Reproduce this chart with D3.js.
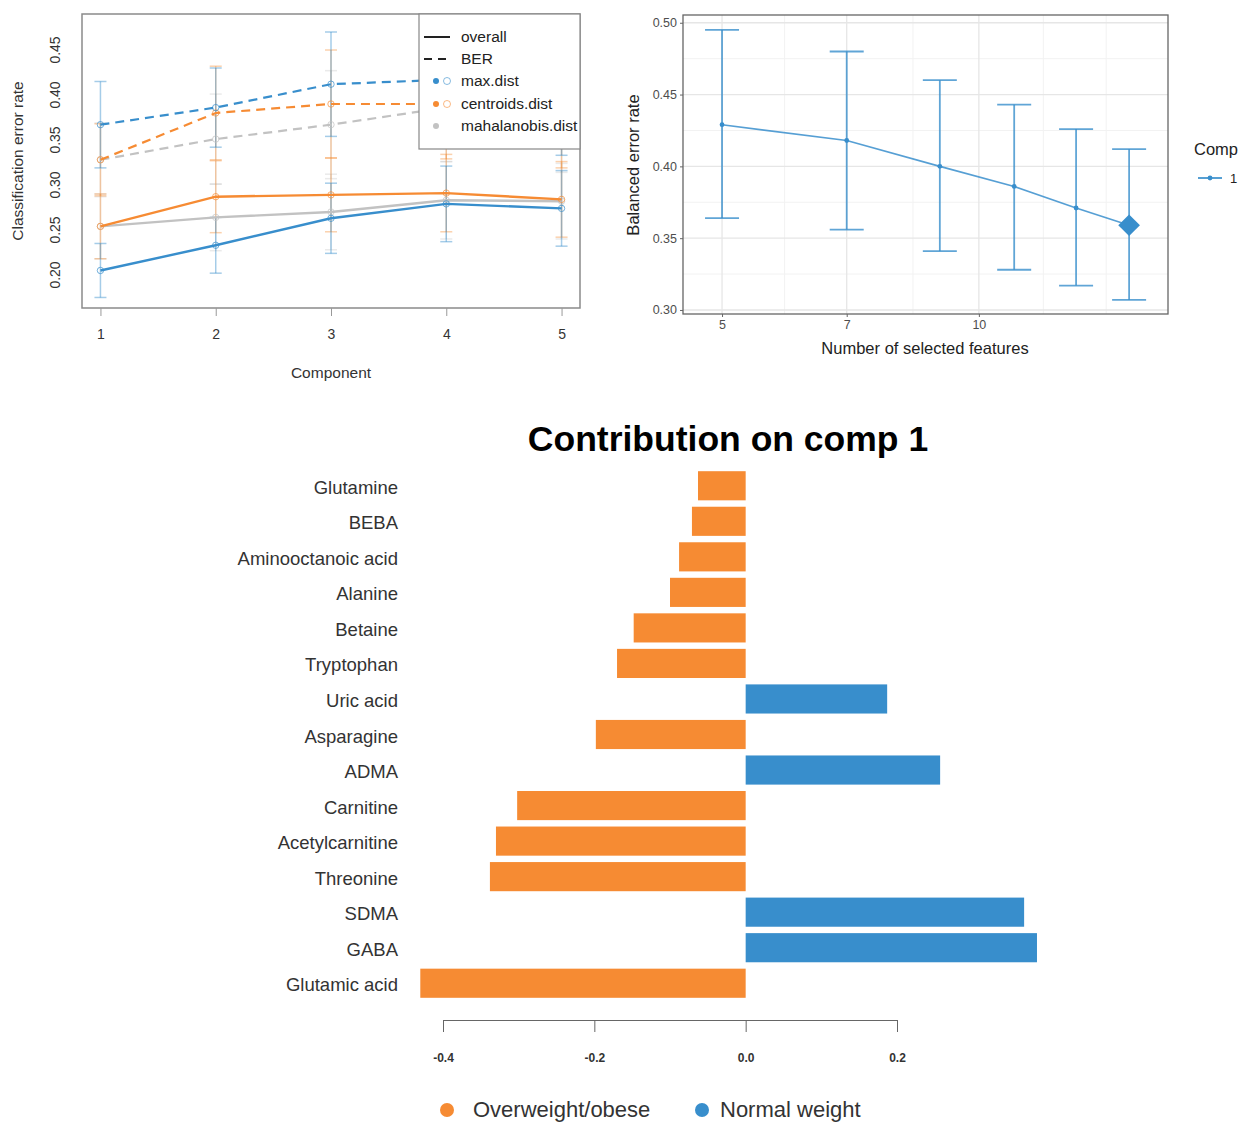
<!DOCTYPE html>
<html>
<head>
<meta charset="utf-8">
<script src="https://cdn.jsdelivr.net/npm/d3@7"></script>
<style>
  body { margin: 0; background: #fff; }
  svg { display: block; font-family: "Liberation Sans", Arial, sans-serif; }
</style>
</head>
<body>
<div id="figure"></div>
<script>
// ---- data ----
// panel A: classification error rate per component
var components = [1, 2, 3, 4, 5];
var maxOverall = [0.205, 0.233, 0.263, 0.279, 0.274];
var maxOverallSd = [0.030, 0.031, 0.039, 0.042, 0.042];
var centOverall = [0.254, 0.287, 0.289, 0.291, 0.284];
var centOverallSd = [0.036, 0.040, 0.041, 0.043, 0.042];
var mahaOverall = [0.254, 0.264, 0.270, 0.283, 0.282];
var mahaOverallSd = [0.036, 0.037, 0.042, 0.043, 0.042];
var maxBER = [0.367, 0.386, 0.412, 0.417, 0.393];
var maxBERSd = [0.048, 0.044, 0.058, 0.062, 0.060];
var centBER = [0.328, 0.380, 0.390, 0.390, 0.381];
var centBERSd = [0.040, 0.052, 0.060, 0.061, 0.062];
var mahaBER = [0.328, 0.351, 0.367, 0.386, 0.374];
var mahaBERSd = [0.041, 0.050, 0.060, 0.060, 0.060];
var errTicks = [0.20, 0.25, 0.30, 0.35, 0.40, 0.45];
var legendA = ["overall", "BER", "max.dist", "centroids.dist", "mahalanobis.dist"];

// panel B: balanced error rate per number of features
var nFeatures = [5, 7, 9, 11, 13, 15];
var berMean = [0.429, 0.418, 0.400, 0.386, 0.371, 0.359];
var berLow = [0.364, 0.356, 0.341, 0.328, 0.317, 0.307];
var berHigh = [0.495, 0.480, 0.460, 0.443, 0.426, 0.412];
var berTicks = [0.30, 0.35, 0.40, 0.45, 0.50];
var berMinor = [0.325, 0.375, 0.425, 0.475];
var featTicks = [5, 7, 10];
var featMinor = [5.92, 8.37, 11.9, 14.1];

// panel C: loadings on component 1
var metabolites = ["Glutamine", "BEBA", "Aminooctanoic acid", "Alanine", "Betaine", "Tryptophan",
  "Uric acid", "Asparagine", "ADMA", "Carnitine", "Acetylcarnitine", "Threonine", "SDMA", "GABA", "Glutamic acid"];
var loadings = [-0.063, -0.071, -0.088, -0.100, -0.148, -0.170, 0.187, -0.198, 0.257, -0.302,
  -0.330, -0.338, 0.368, 0.385, -0.430];
var groups = ["Overweight/obese", "Normal weight"];
var loadTicks = [-0.4, -0.2, 0.0, 0.2];

var blue = "#388ECC", orange = "#F68B33", grey = "#C2C2C2";

var svg = d3.select("#figure").append("svg").attr("width", 1243).attr("height", 1123);
svg.append("rect").attr("width", 1243).attr("height", 1123).attr("fill", "#fff");

// ================= Panel A =================
var xA = d3.scaleLinear().domain([0.84, 5.16]).range([82, 580]);
var yA = d3.scaleLinear().domain([0.1633, 0.49]).range([308, 14]);
var gA = svg.append("g");

var seriesA = [
  {m: mahaBER, sd: mahaBERSd, col: grey, dash: "9,6", w: 2.2, eo: 0.35},
  {m: mahaOverall, sd: mahaOverallSd, col: grey, dash: null, w: 2.4, eo: 0.35},
  {m: centBER, sd: centBERSd, col: orange, dash: "9,6", w: 2.2, eo: 0.4},
  {m: centOverall, sd: centOverallSd, col: orange, dash: null, w: 2.4, eo: 0.4},
  {m: maxBER, sd: maxBERSd, col: blue, dash: "9,6", w: 2.2, eo: 0.45},
  {m: maxOverall, sd: maxOverallSd, col: blue, dash: null, w: 2.4, eo: 0.45}
];

// error bars first
seriesA.forEach(s => {
  var eb = gA.append("g").attr("stroke", s.col).attr("stroke-opacity", s.eo).attr("stroke-width", 1.5);
  components.forEach((c, i) => {
    var x = xA(c), lo = yA(s.m[i] - s.sd[i]), hi = yA(s.m[i] + s.sd[i]);
    eb.append("line").attr("x1", x).attr("x2", x).attr("y1", lo).attr("y2", hi);
    eb.append("line").attr("x1", x - 6).attr("x2", x + 6).attr("y1", lo).attr("y2", lo);
    eb.append("line").attr("x1", x - 6).attr("x2", x + 6).attr("y1", hi).attr("y2", hi);
  });
});

var lineA = d3.line().x((d, i) => xA(components[i])).y(d => yA(d));
seriesA.forEach(s => {
  gA.append("path").datum(s.m).attr("d", lineA).attr("fill", "none")
    .attr("stroke", s.col).attr("stroke-width", s.w).attr("stroke-dasharray", s.dash);
  gA.selectAll(null).data(s.m).enter().append("circle")
    .attr("cx", (d, i) => xA(components[i])).attr("cy", d => yA(d)).attr("r", 3.2)
    .attr("fill", "none").attr("stroke", s.col).attr("stroke-opacity", 0.7).attr("stroke-width", 1);
});

gA.append("rect").attr("x", 82).attr("y", 14).attr("width", 498).attr("height", 294)
  .attr("fill", "none").attr("stroke", "#8a8a8a").attr("stroke-width", 1.5);

// x axis
var axA = gA.append("g").attr("transform", "translate(0,308)")
  .call(d3.axisBottom(xA).tickValues(components).tickFormat(d3.format("d")).tickSize(8).tickSizeOuter(0).tickPadding(13));
axA.select(".domain").remove();
axA.selectAll("line").attr("stroke", "#999");
axA.selectAll("text").attr("font-size", 14).attr("fill", "#333").attr("font-family", "Liberation Sans");

// y tick labels, rotated like base R
gA.selectAll(null).data(errTicks).enter().append("text")
  .attr("transform", d => `translate(60,${yA(d)}) rotate(-90)`)
  .attr("text-anchor", "middle").attr("font-size", 14).attr("fill", "#333")
  .text(d => d.toFixed(2));

gA.append("text").attr("x", 331).attr("y", 378).attr("text-anchor", "middle")
  .attr("font-size", 15.5).attr("fill", "#333").text("Component");
gA.append("text").attr("transform", "translate(23,161) rotate(-90)").attr("text-anchor", "middle")
  .attr("font-size", 15.5).attr("fill", "#333").text("Classification error rate");

// legend
var lg = gA.append("g");
lg.append("rect").attr("x", 419).attr("y", 14).attr("width", 161).attr("height", 135)
  .attr("fill", "#fff").attr("stroke", "#888").attr("stroke-width", 1.2);
var legY = [37, 59, 81, 104, 126];
lg.selectAll(null).data(legendA).enter().append("text")
  .attr("x", 461).attr("y", (d, i) => legY[i] + 5).attr("font-size", 15.5).attr("fill", "#222").text(d => d);
lg.append("line").attr("x1", 424).attr("x2", 450).attr("y1", legY[0]).attr("y2", legY[0])
  .attr("stroke", "#222").attr("stroke-width", 2);
lg.append("line").attr("x1", 424).attr("x2", 450).attr("y1", legY[1]).attr("y2", legY[1])
  .attr("stroke", "#222").attr("stroke-width", 2).attr("stroke-dasharray", "8,6");
[blue, orange, grey].forEach((c, i) => {
  lg.append("circle").attr("cx", 436).attr("cy", legY[i + 2]).attr("r", 3).attr("fill", c);
  if (i < 2) {
    lg.append("circle").attr("cx", 447).attr("cy", legY[i + 2]).attr("r", 3.5)
      .attr("fill", "none").attr("stroke", c).attr("stroke-opacity", 0.6);
  }
});

// ================= Panel B =================
var xB = d3.scaleLog().domain([4.5, 16.66]).range([683, 1168]);
var yB = d3.scaleLinear().domain([0.2972, 0.5054]).range([314, 15]);
var gB = svg.append("g");

gB.selectAll(null).data(berMinor).enter().append("line")
  .attr("x1", 683).attr("x2", 1168).attr("y1", d => yB(d)).attr("y2", d => yB(d))
  .attr("stroke", "#f2f2f2").attr("stroke-width", 1);
gB.selectAll(null).data(featMinor).enter().append("line")
  .attr("x1", d => xB(d)).attr("x2", d => xB(d)).attr("y1", 15).attr("y2", 314)
  .attr("stroke", "#f2f2f2").attr("stroke-width", 1);
gB.selectAll(null).data(berTicks).enter().append("line")
  .attr("x1", 683).attr("x2", 1168).attr("y1", d => yB(d)).attr("y2", d => yB(d))
  .attr("stroke", "#e6e6e6").attr("stroke-width", 1.3);
gB.selectAll(null).data(featTicks).enter().append("line")
  .attr("x1", d => xB(d)).attr("x2", d => xB(d)).attr("y1", 15).attr("y2", 314)
  .attr("stroke", "#e6e6e6").attr("stroke-width", 1.3);

// error bars
var ebB = gB.append("g").attr("stroke", blue).attr("stroke-opacity", 0.8).attr("stroke-width", 1.8);
nFeatures.forEach((n, i) => {
  var x = xB(n);
  ebB.append("line").attr("x1", x).attr("x2", x).attr("y1", yB(berLow[i])).attr("y2", yB(berHigh[i]));
  ebB.append("line").attr("x1", x - 17).attr("x2", x + 17).attr("y1", yB(berLow[i])).attr("y2", yB(berLow[i]));
  ebB.append("line").attr("x1", x - 17).attr("x2", x + 17).attr("y1", yB(berHigh[i])).attr("y2", yB(berHigh[i]));
});

var lineB = d3.line().x((d, i) => xB(nFeatures[i])).y(d => yB(d));
gB.append("path").datum(berMean).attr("d", lineB).attr("fill", "none")
  .attr("stroke", blue).attr("stroke-opacity", 0.85).attr("stroke-width", 1.7);
gB.selectAll(null).data(berMean).enter().append("circle")
  .attr("cx", (d, i) => xB(nFeatures[i])).attr("cy", d => yB(d)).attr("r", 2.4).attr("fill", blue);
// best choice marked with a diamond
var last = nFeatures.length - 1;
gB.append("path").attr("d", d3.symbol().type(d3.symbolDiamond2).size(300)())
  .attr("transform", `translate(${xB(nFeatures[last])},${yB(berMean[last])})`)
  .attr("fill", blue);

gB.append("rect").attr("x", 683).attr("y", 15).attr("width", 485).attr("height", 299)
  .attr("fill", "none").attr("stroke", "#666").attr("stroke-width", 1.3);

var axBx = gB.append("g").attr("transform", "translate(0,314)")
  .call(d3.axisBottom(xB).tickValues(featTicks).tickFormat(d3.format("d")).tickSize(3).tickSizeOuter(0).tickPadding(3));
axBx.select(".domain").remove();
axBx.selectAll("line").attr("stroke", "#666");
axBx.selectAll("text").attr("font-size", 12.5).attr("fill", "#4d4d4d").attr("font-family", "Liberation Sans");

var axBy = gB.append("g").attr("transform", "translate(683,0)")
  .call(d3.axisLeft(yB).tickValues(berTicks).tickFormat(d3.format(".2f")).tickSize(3).tickSizeOuter(0).tickPadding(3));
axBy.select(".domain").remove();
axBy.selectAll("line").attr("stroke", "#666");
axBy.selectAll("text").attr("font-size", 12.5).attr("fill", "#4d4d4d").attr("font-family", "Liberation Sans");

gB.append("text").attr("x", 925).attr("y", 354).attr("text-anchor", "middle")
  .attr("font-size", 16.5).attr("fill", "#222").text("Number of selected features");
gB.append("text").attr("transform", "translate(639,165) rotate(-90)").attr("text-anchor", "middle")
  .attr("font-size", 16.5).attr("fill", "#222").text("Balanced error rate");

gB.append("text").attr("x", 1194).attr("y", 155).attr("font-size", 16.5).attr("fill", "#222").text("Comp");
gB.append("line").attr("x1", 1198).attr("x2", 1222).attr("y1", 178).attr("y2", 178)
  .attr("stroke", blue).attr("stroke-width", 1.7);
gB.append("circle").attr("cx", 1210).attr("cy", 178).attr("r", 2.4).attr("fill", blue);
gB.append("text").attr("x", 1230).attr("y", 183).attr("font-size", 13).attr("fill", "#222").text("1");

// ================= Panel C =================
var xC = d3.scaleLinear().domain([-0.4, 0.2]).range([443, 897]);
var yC = d3.scaleBand().domain(metabolites).range([468, 1001]).paddingInner(0.18).paddingOuter(0.09);
var gC = svg.append("g");

gC.append("text").attr("x", 728).attr("y", 451).attr("text-anchor", "middle")
  .attr("font-size", 35.5).attr("font-weight", "bold").attr("fill", "#000").text("Contribution on comp 1");

gC.selectAll("rect.bar").data(loadings).enter().append("rect").attr("class", "bar")
  .attr("x", d => xC(Math.min(0, d)))
  .attr("y", (d, i) => yC(metabolites[i]))
  .attr("width", d => Math.abs(xC(d) - xC(0)))
  .attr("height", yC.bandwidth())
  .attr("fill", d => d < 0 ? orange : blue);

gC.selectAll("text.lab").data(metabolites).enter().append("text").attr("class", "lab")
  .attr("x", 398).attr("y", d => yC(d) + yC.bandwidth() / 2 + 8)
  .attr("text-anchor", "end").attr("font-size", 18.5).attr("fill", "#333").text(d => d);

var axC = gC.append("g").attr("transform", "translate(0,1020)")
  .call(d3.axisBottom(xC).tickValues(loadTicks).tickFormat(d => d.toFixed(1)).tickSize(12).tickSizeOuter(0).tickPadding(21));
axC.select(".domain").attr("stroke", "#666");
axC.selectAll("line").attr("stroke", "#666");
axC.selectAll("text").attr("font-size", 12).attr("font-weight", "bold").attr("fill", "#333").attr("font-family", "Liberation Sans");

var legC = [{x: 447, tx: 473, c: orange}, {x: 702, tx: 720, c: blue}];
gC.selectAll("circle.leg").data(groups).enter().append("circle").attr("class", "leg")
  .attr("cx", (d, i) => legC[i].x).attr("cy", 1110).attr("r", 7).attr("fill", (d, i) => legC[i].c);
gC.selectAll("text.leg").data(groups).enter().append("text").attr("class", "leg")
  .attr("x", (d, i) => legC[i].tx).attr("y", 1117).attr("font-size", 22).attr("fill", "#333").text(d => d);
</script>
</body>
</html>
